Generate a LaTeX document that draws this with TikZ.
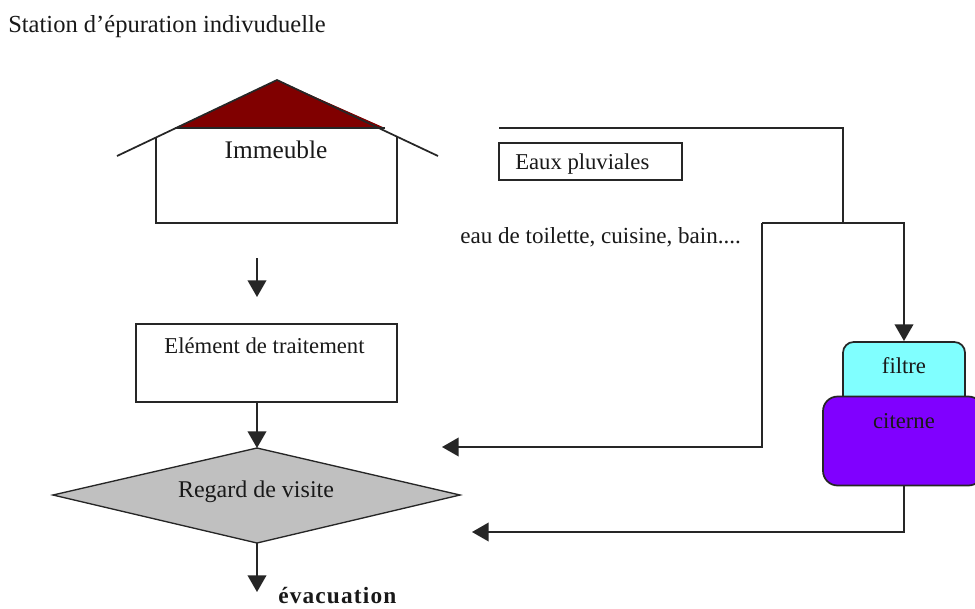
\documentclass[tikz,border=0pt]{standalone}
\usepackage{fontspec}
\setmainfont{Liberation Serif}
\usetikzlibrary{arrows.meta}
\definecolor{roofred}{RGB}{128,0,0}
\definecolor{filtercyan}{RGB}{128,255,255}
\definecolor{cisternviolet}{RGB}{128,0,255}
\definecolor{manholegrey}{RGB}{192,192,192}
\tikzset{
  x=0.75pt,y=-0.75pt,
  line/.style={draw=black!85,line width=1.3pt},
  flow/.style={line,-{Triangle[length=12.5pt,width=14pt]}},
  label/.style={inner sep=0pt,anchor=base,font=\fontsize{#1}{20}\selectfont,text=black!90},
  label/.default=18,
  westlabel/.style={label=#1,anchor=base west},
}
\begin{document}
\begin{tikzpicture}
\useasboundingbox (0,0) rectangle (975,608);
\fill[white] (0,0) rectangle (975,608);
\clip (0,0) rectangle (975,608);
\node[westlabel=18.4] (title) at (8,32) {Station d’épuration indivuduelle};
% house
\coordinate (apex) at (277,80);
\coordinate (baseL) at (175,128);
\coordinate (baseR) at (385,128);
\coordinate (eaveL) at (117,156);
\coordinate (eaveR) at (438,156);
\coordinate (wallLt) at (156,137);
\coordinate (wallRt) at (397,137);
\coordinate (wallLb) at (156,223);
\coordinate (wallRb) at (397,223);
\fill[roofred] (apex) -- (baseR) -- (baseL) -- cycle;
\draw[line] (eaveL) -- (apex) -- (eaveR);
\draw[line] (wallLt) -- (wallLb) -- (wallRb) -- (wallRt);
\draw[line] (baseL) -- (baseR);
\node[label=19] (immeuble) at (276,158) {Immeuble};
% arrow below the house
\coordinate (a1s) at (257,258);
\coordinate (a1e) at (257,297);
\draw[flow] (a1s) -- (a1e);
% treatment
\node[line,rectangle,minimum width=195.75pt,minimum height=58.5pt,inner sep=0pt] (treat) at (266.5,363) {};
\node[label=17] (treattext) at (264.5,353) {Elément de traitement};
% manhole
\coordinate (dT) at (257,448);
\coordinate (dB) at (257,543);
\coordinate (dL) at (53,495);
\coordinate (dR) at (460,495);
\draw[line,fill=manholegrey,line width=1pt] (dT) -- (dR) -- (dB) -- (dL) -- cycle;
\node[label=18] (regard) at (256,497) {Regard de visite};
\coordinate (treatB) at (257,402);
\draw[flow] (treatB) -- (dT);
\coordinate (evac) at (257,592);
\draw[flow] (dB) -- (evac);
\node[westlabel=18,font=\fontsize{17.5}{20}\selectfont\bfseries\addfontfeature{LetterSpace=5}] (evactext) at (278,603) {évacuation};
% rain
\node[line,rectangle,minimum width=137.25pt,minimum height=27.75pt,inner sep=0pt] (rain) at (590.5,161.5) {};
\node[westlabel=17] (raintext) at (515,169) {Eaux pluviales};
\node[westlabel=17.3] (wastetext) at (460,243) {eau de toilette, cuisine, bain....};
% filter & tank
\draw[line,fill=filtercyan,rounded corners=8pt] (843,400) -- (843,342) -- (965,342) -- (965,400);
\node[line,rectangle,rounded corners=11pt,fill=cisternviolet,minimum width=120pt,minimum height=66.75pt,inner sep=0pt] (tank) at (903,441) {};
\node[label=17] (filtretext) at (904,373) {filtre};
\node[label=17] (citernetext) at (904,428) {citerne};
% pipes
\coordinate (r0) at (499,128);
\coordinate (r1) at (843,128);
\coordinate (r2) at (843,223);
\coordinate (j0) at (762,223);
\coordinate (j1) at (904,223);
\coordinate (filterT) at (904,341);
\coordinate (j2) at (762,447);
\coordinate (tip1) at (442,447);
\coordinate (tankB) at (904,485);
\coordinate (t1) at (904,532);
\coordinate (tip2) at (472,532);
\draw[line] (r0) -- (r1) -- (r2);
\draw[flow] (j0) -- (j1) -- (filterT);
\draw[flow] (j0) -- (j2) -- (tip1);
\draw[flow] (tankB) -- (t1) -- (tip2);
\end{tikzpicture}
\end{document}
